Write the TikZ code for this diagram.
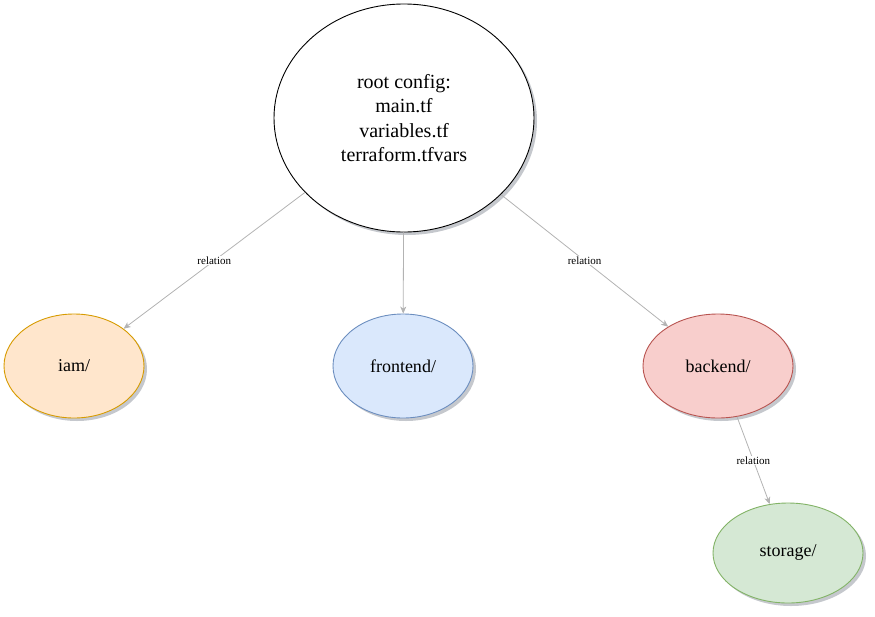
\documentclass[tikz,border=0pt]{standalone}
\usepackage{fontspec}
\setmainfont{Liberation Serif}
\usetikzlibrary{shapes.geometric,shadows,arrows.meta}
\definecolor{iamfill}{HTML}{FFE6CC}\definecolor{iamline}{HTML}{D79B00}
\definecolor{frfill}{HTML}{DAE8FC}\definecolor{frline}{HTML}{6C8EBF}
\definecolor{befill}{HTML}{F8CECC}\definecolor{beline}{HTML}{B85450}
\definecolor{stfill}{HTML}{D5E8D4}\definecolor{stline}{HTML}{82B366}
\definecolor{edgegray}{HTML}{B3B3B3}
\definecolor{shadowgray}{HTML}{5A6270}
\tikzset{
  blob/.style={ellipse, draw, line width=0.9pt, inner sep=0pt,
    drop shadow={shadow xshift=3pt, shadow yshift=-3pt, opacity=0.35, fill=shadowgray},
    font=\fontsize{18}{22}\selectfont, align=center},
  rel/.style={draw=edgegray, line width=0.8pt, -{Stealth[length=7pt,width=6pt,inset=2pt,open,fill=edgegray]}},
  rellabel/.style={fill=white, inner sep=1pt, font=\fontsize{11}{13}\selectfont}
}
\begin{document}
\begin{tikzpicture}[x=1pt,y=-1pt]
\useasboundingbox (0,0) rectangle (875,616);
\node[blob, fill=white, minimum width=260pt, minimum height=228pt,
  font=\fontsize{20}{24.5}\selectfont] (root) at (404,118)
  {root config:\\main.tf\\variables.tf\\terraform.tfvars};
\node[blob, fill=iamfill, draw=iamline, minimum width=140pt, minimum height=104pt] (iam) at (74,366) {iam/};
\node[blob, fill=frfill, draw=frline, minimum width=140pt, minimum height=104pt] (fe) at (403,366) {frontend/};
\node[blob, fill=befill, draw=beline, minimum width=150pt, minimum height=104pt] (be) at (718,366) {backend/};
\node[blob, fill=stfill, draw=stline, minimum width=150pt, minimum height=100pt] (st) at (788,553) {storage/};
\draw[rel] (root) -- node[rellabel] {relation} (iam);
\draw[rel] (root) -- (fe);
\draw[rel] (root) -- node[rellabel] {relation} (be);
\draw[rel] (be) -- node[rellabel] {relation} (st);
\end{tikzpicture}
\end{document}
